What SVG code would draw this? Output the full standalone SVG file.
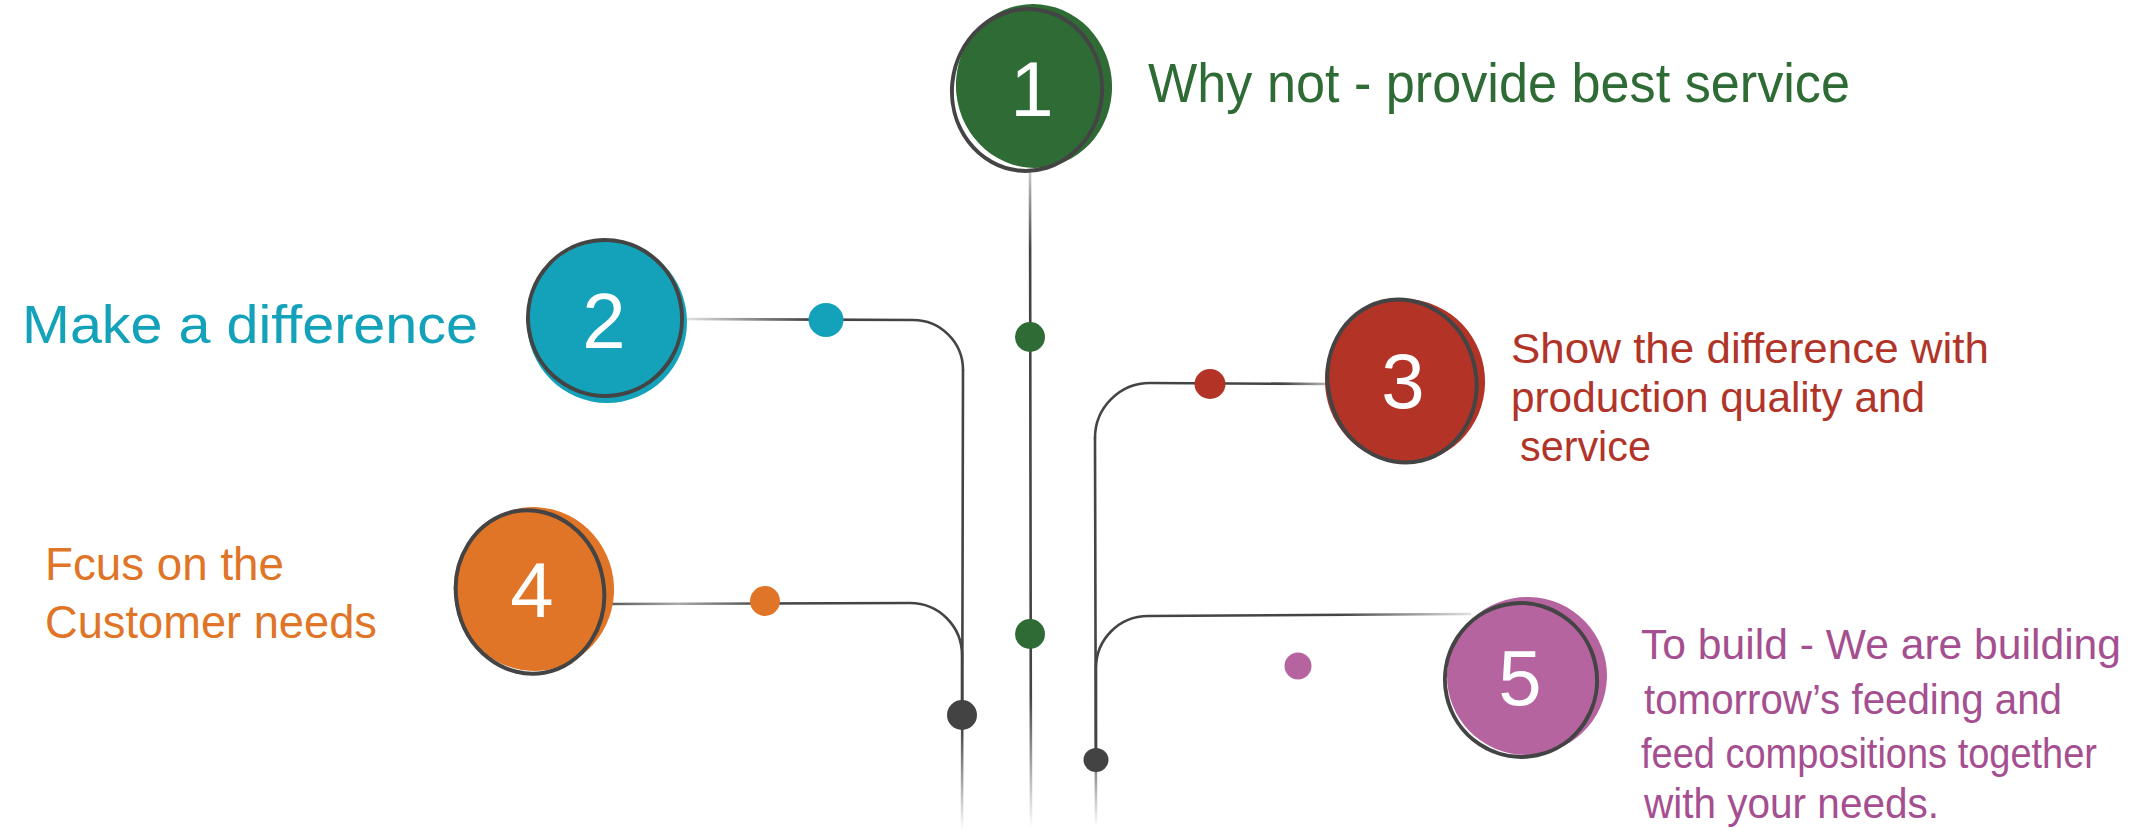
<svg xmlns="http://www.w3.org/2000/svg" width="2148" height="835" viewBox="0 0 2148 835">
  <style>
    .lbl { font-family: "Liberation Sans Narrow", "Liberation Sans", "DejaVu Sans", sans-serif; }
    .num { font-family: "Liberation Sans", "DejaVu Sans", sans-serif; fill: #ffffff; font-size: 78px; text-anchor: middle; }
    .ring { fill: none; stroke: #444444; stroke-width: 4; }
    .conn { fill: none; stroke-width: 2.6; stroke-linecap: round; }
    .dk { fill: #434343; }
  </style>
  <defs>
    <linearGradient id="gV1" gradientUnits="userSpaceOnUse" x1="0" y1="170" x2="0" y2="828">
      <stop offset="0" stop-color="#cccccc"/>
      <stop offset="0.12" stop-color="#444444"/>
      <stop offset="0.8" stop-color="#444444"/>
      <stop offset="1" stop-color="#ffffff"/>
    </linearGradient>
    <linearGradient id="g2" gradientUnits="userSpaceOnUse" x1="682" y1="0" x2="963" y2="0">
      <stop offset="0" stop-color="#e6e6e6"/>
      <stop offset="0.45" stop-color="#444444"/>
      <stop offset="1" stop-color="#444444"/>
    </linearGradient>
    <linearGradient id="gV2" gradientUnits="userSpaceOnUse" x1="0" y1="319" x2="0" y2="830">
      <stop offset="0" stop-color="#444444"/>
      <stop offset="0.8" stop-color="#444444"/>
      <stop offset="1" stop-color="#ffffff"/>
    </linearGradient>
    <linearGradient id="g4" gradientUnits="userSpaceOnUse" x1="607" y1="0" x2="962" y2="0">
      <stop offset="0" stop-color="#555555"/>
      <stop offset="0.2" stop-color="#aaaaaa"/>
      <stop offset="0.45" stop-color="#444444"/>
      <stop offset="1" stop-color="#444444"/>
    </linearGradient>
    <linearGradient id="g3" gradientUnits="userSpaceOnUse" x1="1330" y1="0" x2="1095" y2="0">
      <stop offset="0" stop-color="#bbbbbb"/>
      <stop offset="0.2" stop-color="#444444"/>
      <stop offset="1" stop-color="#444444"/>
    </linearGradient>
    <linearGradient id="gV3" gradientUnits="userSpaceOnUse" x1="0" y1="383" x2="0" y2="826">
      <stop offset="0" stop-color="#444444"/>
      <stop offset="0.8" stop-color="#444444"/>
      <stop offset="1" stop-color="#ffffff"/>
    </linearGradient>
    <linearGradient id="g5" gradientUnits="userSpaceOnUse" x1="1470" y1="0" x2="1096" y2="0">
      <stop offset="0" stop-color="#e0e0e0"/>
      <stop offset="0.35" stop-color="#444444"/>
      <stop offset="1" stop-color="#444444"/>
    </linearGradient>
  </defs>
  <rect width="2148" height="835" fill="#ffffff"/>

  <g id="connectors">
    <path class="conn" stroke="url(#gV1)" d="M1030,170 L1031,826"/>
    <path class="conn" stroke="url(#g2)" d="M682,319 L913,320 A50,50 0 0 1 963,370"/>
    <path class="conn" stroke="url(#gV2)" d="M963,370 L962,830"/>
    <path class="conn" stroke="url(#g4)" d="M607,604 L910,603 A52,52 0 0 1 962,655 L962,712"/>
    <path class="conn" stroke="url(#g3)" d="M1330,384 L1150,383 A55,55 0 0 0 1095,438"/>
    <path class="conn" stroke="url(#gV3)" d="M1095,438 L1096,826"/>
    <path class="conn" stroke="url(#g5)" d="M1470,614 L1148,616 A52,52 0 0 0 1096,668 L1096,758"/>
    <ellipse cx="1030" cy="337" rx="15" ry="15" fill="#2e6b35"/>
    <ellipse cx="1030" cy="634" rx="15" ry="15" fill="#2e6b35"/>
    <ellipse cx="826" cy="320" rx="17.5" ry="17" fill="#13a2b9"/>
    <ellipse cx="765" cy="601" rx="15" ry="15" fill="#e07527"/>
    <ellipse cx="1210" cy="384" rx="15.5" ry="15" fill="#b33426"/>
    <ellipse cx="1298" cy="666" rx="13.5" ry="13.5" fill="#b5649f"/>
    <ellipse class="dk" cx="962" cy="715" rx="15" ry="15"/>
    <ellipse class="dk" cx="1096" cy="760" rx="12.5" ry="12"/>
  </g>

  <g id="node-1">
    <ellipse cx="1034" cy="86" rx="78" ry="82" fill="#2e6b35" transform="rotate(-6 1034 86)"/>
    <ellipse class="ring" cx="1027" cy="90" rx="75" ry="81" transform="rotate(6 1027 90)"/>
    <text class="num" x="1032" y="116">1</text>
    <text class="lbl" x="1148" y="102" font-size="56" fill="#2e6b35" textLength="702" lengthAdjust="spacingAndGlyphs">Why not - provide best service</text>
  </g>

  <g id="node-2">
    <ellipse cx="607" cy="322" rx="80" ry="81" fill="#13a2b9"/>
    <ellipse class="ring" cx="605" cy="318" rx="77" ry="78" transform="rotate(-8 605 318)"/>
    <text class="num" x="604" y="348">2</text>
    <text class="lbl" x="22" y="343" font-size="54" fill="#13a2b9" textLength="456" lengthAdjust="spacingAndGlyphs">Make a difference</text>
  </g>

  <g id="node-3">
    <ellipse cx="1405" cy="381" rx="80" ry="82" fill="#b33426" transform="rotate(-10 1405 381)"/>
    <ellipse class="ring" cx="1402" cy="381" rx="74" ry="82" transform="rotate(-14 1402 381)"/>
    <text class="num" x="1403" y="408">3</text>
    <g class="lbl" font-size="42" fill="#b13428">
      <text x="1511" y="363" textLength="478" lengthAdjust="spacingAndGlyphs">Show the difference with</text>
      <text x="1511" y="412" textLength="414" lengthAdjust="spacingAndGlyphs">production quality and</text>
      <text x="1520" y="461" textLength="131" lengthAdjust="spacingAndGlyphs">service</text>
    </g>
  </g>

  <g id="node-4">
    <ellipse cx="534" cy="589" rx="80" ry="82" fill="#e07527" transform="rotate(-8 534 589)"/>
    <ellipse class="ring" cx="530" cy="592" rx="74" ry="82" transform="rotate(-10 530 592)"/>
    <text class="num" x="532" y="617">4</text>
    <g class="lbl" font-size="46" fill="#e07527">
      <text x="45" y="580" textLength="239" lengthAdjust="spacingAndGlyphs">Fcus on the</text>
      <text x="45" y="638" textLength="332" lengthAdjust="spacingAndGlyphs">Customer needs</text>
    </g>
  </g>

  <g id="node-5">
    <ellipse cx="1527" cy="676" rx="80" ry="79" fill="#b5649f" transform="rotate(-10 1527 676)"/>
    <ellipse class="ring" cx="1521" cy="680" rx="76" ry="77" transform="rotate(-12 1521 680)"/>
    <text class="num" x="1520" y="705">5</text>
    <g class="lbl" font-size="42" fill="#a54f90">
      <text x="1641" y="659" textLength="480" lengthAdjust="spacingAndGlyphs">To build - We are building</text>
      <text x="1644" y="714" textLength="418" lengthAdjust="spacingAndGlyphs">tomorrow’s feeding and</text>
      <text x="1641" y="768" textLength="456" lengthAdjust="spacingAndGlyphs">feed compositions together</text>
      <text x="1644" y="818" textLength="295" lengthAdjust="spacingAndGlyphs">with your needs.</text>
    </g>
  </g>
</svg>
